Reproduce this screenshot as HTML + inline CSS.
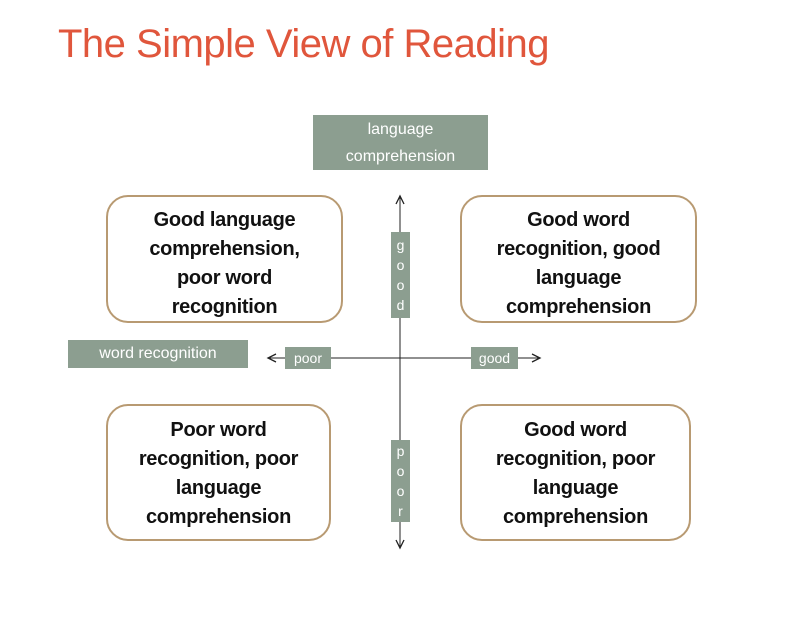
<!DOCTYPE html>
<html><head><style>
body{margin:0;width:800px;height:617px;background:#fff;position:relative;overflow:hidden;font-family:"Liberation Sans",Arial,sans-serif}
.t{position:absolute;left:58px;top:22px;font-size:40px;color:#e0563c;letter-spacing:-0.5px}
.g{position:absolute;background:#8c9e90;color:#fff;text-align:center}
.b{position:absolute;border:2px solid #b89a72;border-radius:22px;box-sizing:border-box;display:flex;align-items:center;justify-content:center;text-align:center;font-weight:bold;font-size:20px;line-height:29px;color:#111;letter-spacing:-0.3px}
.v{font-size:14px;line-height:20px;display:flex;flex-direction:column;align-items:center;justify-content:center}
</style></head><body>
<div class="t">The Simple View of Reading</div>
<div class="g" style="left:313px;top:115px;width:175px;height:55px;font-size:16px;line-height:27px;padding-top:1px;box-sizing:border-box">language<br>comprehension</div>
<div class="g" style="left:68px;top:340px;width:180px;height:28px;font-size:16px;line-height:28px">word recognition</div>
<svg style="position:absolute;left:0;top:0" width="800" height="617">
<line x1="400" y1="197" x2="400" y2="547" stroke="#222" stroke-width="1"/>
<line x1="268" y1="358" x2="539" y2="358" stroke="#222" stroke-width="1"/>
<polyline points="396,204 400,196 404,204" fill="none" stroke="#222" stroke-width="1.3"/>
<polyline points="396,540 400,548 404,540" fill="none" stroke="#222" stroke-width="1.3"/>
<polyline points="276,354 268,358 276,362" fill="none" stroke="#222" stroke-width="1.3"/>
<polyline points="532,354 540,358 532,362" fill="none" stroke="#222" stroke-width="1.3"/>
</svg>
<div class="g" style="left:285px;top:347px;width:46px;height:22px;font-size:14px;line-height:22px">poor</div>
<div class="g" style="left:471px;top:347px;width:47px;height:22px;font-size:14px;line-height:22px">good</div>
<div class="g v" style="left:391px;top:232px;width:19px;height:86px"><span>g</span><span>o</span><span>o</span><span>d</span></div>
<div class="g v" style="left:391px;top:440px;width:19px;height:82px"><span>p</span><span>o</span><span>o</span><span>r</span></div>
<div class="b" style="left:106px;top:195px;width:237px;height:128px;padding-top:10px">Good language<br>comprehension,<br>poor word<br>recognition</div>
<div class="b" style="left:460px;top:195px;width:237px;height:128px;padding-top:10px">Good word<br>recognition, good<br>language<br>comprehension</div>
<div class="b" style="left:106px;top:404px;width:225px;height:137px;padding-top:2px">Poor word<br>recognition, poor<br>language<br>comprehension</div>
<div class="b" style="left:460px;top:404px;width:231px;height:137px;padding-top:2px">Good word<br>recognition, poor<br>language<br>comprehension</div>
</body></html>
